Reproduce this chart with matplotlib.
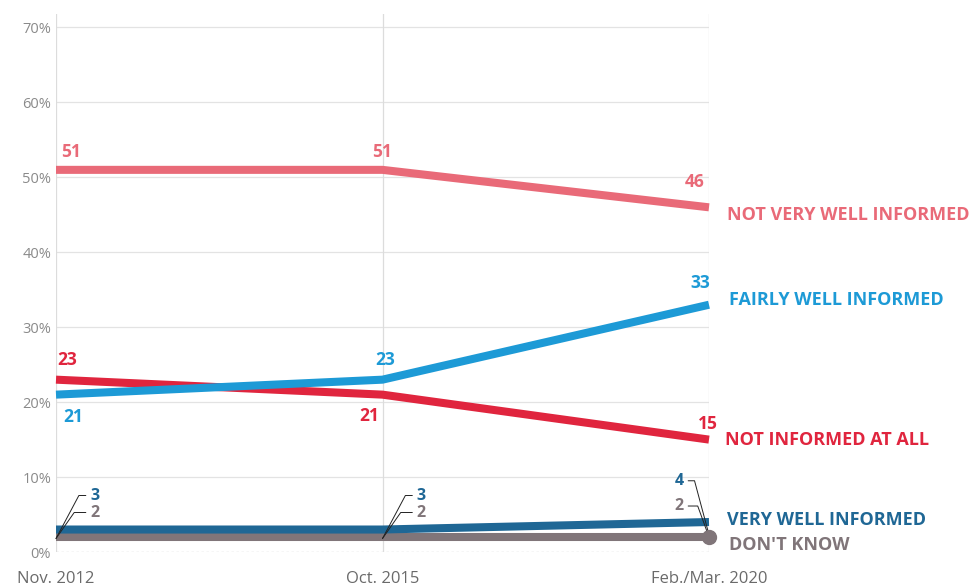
import matplotlib
matplotlib.use("Agg")
import matplotlib.pyplot as plt

# survey waves
waves = ["Nov. 2012", "Oct. 2015", "Feb./Mar. 2020"]

not_very_well = [51, 51, 46]
fairly_well = [21, 23, 33]
not_at_all = [23, 21, 15]
very_well = [3, 3, 4]
dont_know = [2, 2, 2]

series_names = ["NOT VERY WELL INFORMED", "FAIRLY WELL INFORMED",
                "NOT INFORMED AT ALL", "VERY WELL INFORMED", "DON'T KNOW"]
colors = ["#E96A78", "#1D9AD6", "#E0253E", "#1F6795", "#807579"]

plt.rcParams["font.family"] = ["Open Sans", "DejaVu Sans"]

fig = plt.figure(figsize=(9.72, 5.86), dpi=100)
ax = fig.add_axes([56 / 972, 1 - 552 / 586, (709 - 56) / 972, (552 - 14) / 586])

x = list(range(len(waves)))
all_series = [not_very_well, fairly_well, not_at_all, very_well, dont_know]
# draw order: bottom lines first
for idx in [4, 3, 2, 1, 0]:
    ax.plot(x, all_series[idx], color=colors[idx], lw=5.8, solid_capstyle="butt",
            clip_on=False, zorder=3)
ax.plot([x[-1]], [dont_know[-1]], "o", color=colors[4], ms=10, clip_on=False, zorder=4)

ax.set_xlim(0, 2)
ax.set_ylim(0, 71.8)
ax.set_yticks(range(0, 71, 10))
ax.set_yticklabels([f"{v}%" for v in range(0, 71, 10)])
ax.set_xticks(x)
ax.set_xticklabels(waves)
ax.tick_params(axis="both", length=0, colors="#8a8a8a", labelsize=10.5)
ax.tick_params(axis="x", pad=14, labelsize=12, colors="#6a6a6a")
for s in ax.spines.values():
    s.set_visible(False)
for v in range(10, 71, 10):
    ax.axhline(v, color="#e3e3e3", lw=0.9, zorder=1)
ax.axhline(0, color="#bdbdbd", lw=0.9, ls=(0, (2, 2)), zorder=1)
for xi in x:
    ax.axvline(xi, color="#dcdcdc", lw=0.9, zorder=1)

lab = dict(fontsize=12.5, fontweight="bold", textcoords="offset pixels", zorder=5)

def val(i, j, dx, dy, ha="center"):
    ax.annotate(str(all_series[i][j]), (x[j], all_series[i][j]), xytext=(dx, dy),
                color=colors[i], ha=ha, va="center", **lab)

val(0, 0, 15, 18); val(0, 1, 0, 18); val(0, 2, -14, 25)
val(1, 0, 17, -22); val(1, 1, 3, 20); val(1, 2, -9, 22)
val(2, 0, 11, 20); val(2, 1, -13, -21); val(2, 2, -1, 16)

# small values with leader lines
lead = dict(arrowstyle="-", color="#222222", lw=0.7, shrinkA=1, shrinkB=0)
small = dict(fontsize=11.5, fontweight="bold", textcoords="offset pixels", va="center")
for j in [0, 1]:
    ax.annotate(str(very_well[j]), (x[j], 1.8), xytext=(34, 43), color=colors[3],
                ha="left", **small,
                arrowprops=dict(connectionstyle="angle,angleA=0,angleB=62,rad=0", **lead))
    ax.annotate(str(dont_know[j]), (x[j], 1.8), xytext=(34, 26), color=colors[4],
                ha="left", **small,
                arrowprops=dict(connectionstyle="angle,angleA=0,angleB=55,rad=0", **lead))
ax.annotate(str(very_well[2]), (x[2], 2.3), xytext=(-25, 54), color=colors[3],
            ha="right", **small,
            arrowprops=dict(connectionstyle="angle,angleA=180,angleB=105,rad=0", **lead))
ax.annotate(str(dont_know[2]), (x[2], 2.0), xytext=(-25, 31), color=colors[4],
            ha="right", **small,
            arrowprops=dict(connectionstyle="angle,angleA=180,angleB=110,rad=0", **lead))

# series names at right
name_y = [45.0, 33.6, 14.9, 4.3, 0.9]
name_dx = [18, 20, 16, 18, 20]
for i, name in enumerate(series_names):
    ax.annotate(name, (x[-1], name_y[i]), xytext=(name_dx[i], 0),
                color=colors[i], ha="left", va="center", fontsize=13, fontweight="bold",
                textcoords="offset pixels", annotation_clip=False)

fig.savefig("out.png", dpi=100)
